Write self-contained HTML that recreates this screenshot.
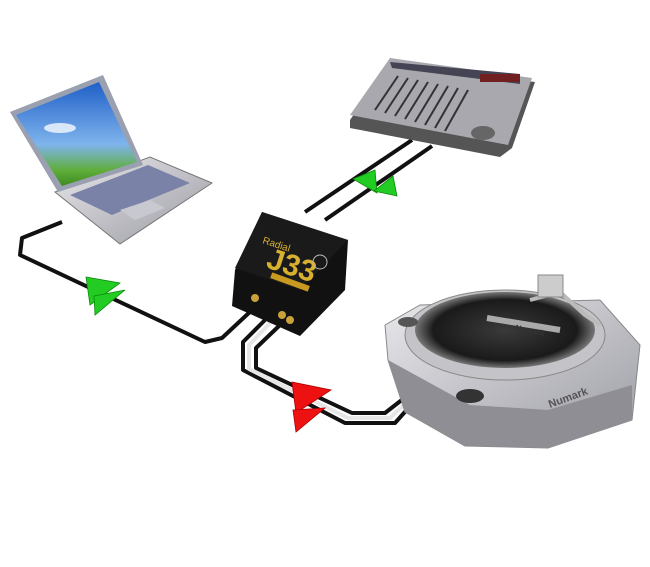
<!DOCTYPE html>
<html><head><style>html,body{margin:0;padding:0;background:#fff}svg{display:block}</style></head><body>
<svg width="650" height="567" viewBox="0 0 650 567" xmlns="http://www.w3.org/2000/svg">
<defs>
<linearGradient id="scr" x1="0" y1="0" x2="0" y2="1"><stop offset="0" stop-color="#1f5fc8"/><stop offset=".6" stop-color="#7fb4ec"/><stop offset=".85" stop-color="#5fae3a"/><stop offset="1" stop-color="#3f8a22"/></linearGradient>
<linearGradient id="sil" x1="0" y1="0" x2="1" y2="1"><stop offset="0" stop-color="#e8e8ec"/><stop offset="1" stop-color="#9a9aa2"/></linearGradient>
<radialGradient id="plat" cx=".5" cy=".5" r=".5"><stop offset="0" stop-color="#3a3a3a"/><stop offset=".8" stop-color="#1a1a1a"/><stop offset="1" stop-color="#777"/></radialGradient>
</defs>
<path d="M62,222 L22,238 L20,255 L205,342 L222,338 L252,310" fill="none" stroke="#111" stroke-width="4" stroke-linejoin="round"/>
<path d="M305,212 L412,140 M325,220 L432,146" fill="none" stroke="#111" stroke-width="4"/>
<path d="M265,320 L243,342 L243,370 L345,423 L395,423 L420,395" fill="none" stroke="#111" stroke-width="4" stroke-linejoin="round"/>
<path d="M280,325 L256,348 L256,368 L352,413 L385,413 L412,392" fill="none" stroke="#111" stroke-width="4" stroke-linejoin="round"/>
<path d="M271,322 L249,345 L249,369 L348,418 L390,418 L416,393" fill="none" stroke="#e6e6e6" stroke-width="4" stroke-linejoin="round"/>
<polygon points="55,192 150,157 212,183 120,244" fill="url(#sil)" stroke="#777"/>
<polygon points="70,195 148,165 190,183 112,215" fill="#7a82a8"/>
<polygon points="120,210 150,200 165,208 135,220" fill="#c8c8d0"/>
<polygon points="10,112 103,75 143,165 58,192" fill="#9aa0b0"/>
<polygon points="16,115 99,82 137,162 62,186" fill="url(#scr)"/>
<ellipse cx="60" cy="128" rx="16" ry="5" fill="#e6f0fb" opacity=".9"/>
<polygon points="350,120 390,62 535,82 512,148 500,157 350,128" fill="#555"/>
<polygon points="350,115 390,58 532,78 508,145" fill="#a8a8ae"/>
<polygon points="390,62 520,74 520,84 392,68" fill="#445"/>
<g stroke="#333" stroke-width="2">
<line x1="375" y1="110" x2="398" y2="76"/><line x1="385" y1="113" x2="408" y2="78"/><line x1="395" y1="116" x2="418" y2="80"/><line x1="405" y1="119" x2="428" y2="82"/><line x1="415" y1="122" x2="438" y2="84"/><line x1="425" y1="125" x2="448" y2="86"/><line x1="435" y1="128" x2="458" y2="88"/><line x1="445" y1="131" x2="468" y2="90"/></g>
<ellipse cx="483" cy="133" rx="12" ry="7" fill="#666"/>
<rect x="480" y="74" width="40" height="8" fill="#702020"/>
<polygon points="262,212 348,240 345,290 300,336 232,306 235,270" fill="#111"/>
<polygon points="262,212 348,240 300,290 235,268" fill="#1a1a1a"/>
<text x="268" y="273" font-family="Liberation Sans,sans-serif" font-weight="bold" font-size="30" fill="#d8b030" transform="rotate(18 285 260)">J33</text>
<text x="262" y="243" font-family="Liberation Sans,sans-serif" font-size="10" fill="#d8b030" transform="rotate(18 262 243)">Radial</text>
<rect x="270" y="279" width="40" height="6" fill="#c89a20" transform="rotate(20 290 282)"/>
<circle cx="320" cy="262" r="7" fill="none" stroke="#bbb"/>
<circle cx="255" cy="298" r="4" fill="#c9a13a"/><circle cx="282" cy="315" r="4" fill="#c9a13a"/><circle cx="290" cy="320" r="4" fill="#c9a13a"/>
<polygon points="385,325 420,305 600,300 640,345 632,420 548,448 465,446 405,412 388,360" fill="url(#sil)" stroke="#888"/>
<polygon points="388,360 470,405 548,410 632,385 632,420 548,448 465,446 405,412" fill="#8e8e94"/>
<ellipse cx="505" cy="335" rx="100" ry="45" fill="#c4c4c8" stroke="#888"/>
<ellipse cx="505" cy="330" rx="90" ry="38" fill="url(#plat)"/>
<path d="M530,300 L560,292 L585,315 L600,325" stroke="#bbb" stroke-width="4" fill="none"/>
<rect x="538" y="275" width="25" height="22" fill="#ccc" stroke="#888"/>
<line x1="487" y1="318" x2="560" y2="330" stroke="#aaa" stroke-width="6"/>
<text x="515" y="330" font-family="Liberation Sans,sans-serif" font-weight="bold" font-size="8" fill="#333" transform="rotate(12 515 330)">Numark</text>
<text x="550" y="408" font-family="Liberation Sans,sans-serif" font-weight="bold" font-size="11" fill="#555" transform="rotate(-20 550 408)">Numark</text>
<ellipse cx="470" cy="396" rx="14" ry="7" fill="#333"/>
<ellipse cx="408" cy="322" rx="10" ry="5" fill="#555"/>
<g fill="#22cc22" stroke="#0a8a0a" stroke-width=".8">
<polygon points="86,277 120,283 90,305"/><polygon points="94,296 125,290 95,315"/>
<polygon points="353,179 375,170 377,193"/><polygon points="374,191 393,176 397,196"/>
</g>
<g fill="#ee1111" stroke="#a00" stroke-width=".8">
<polygon points="292,382 331,390 296,413"/><polygon points="293,410 325,408 296,432"/>
</g>
</svg>
</body></html>
